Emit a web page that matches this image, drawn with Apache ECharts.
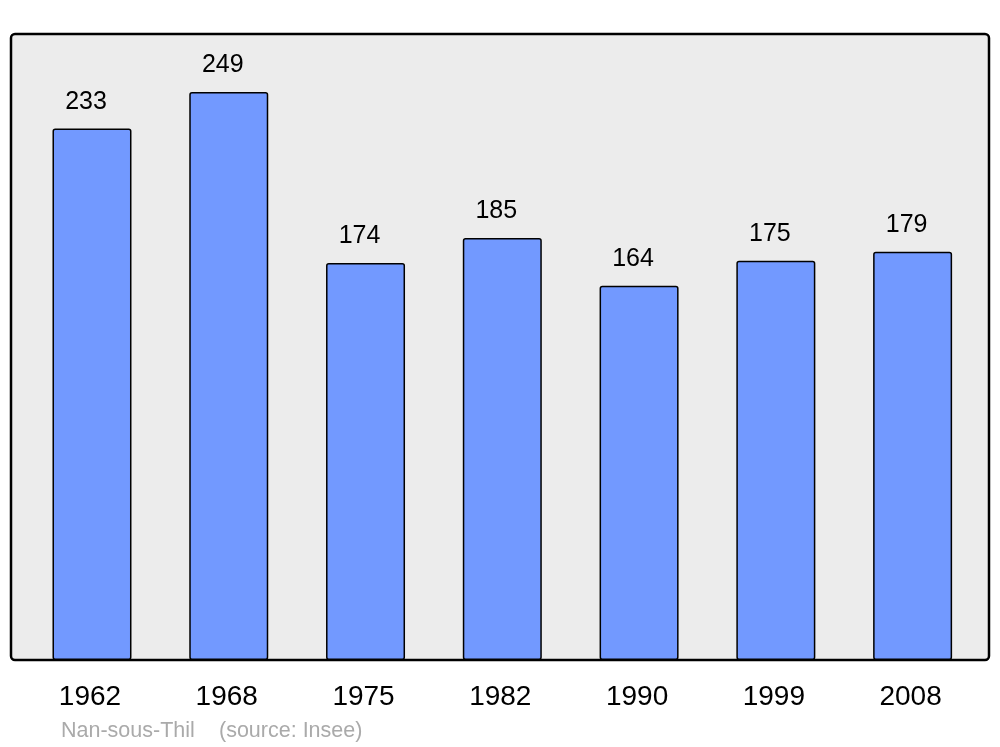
<!DOCTYPE html>
<html><head><meta charset="utf-8">
<script src="https://cdn.jsdelivr.net/npm/echarts@6/dist/echarts.min.js"></script>
<style>html,body{margin:0;padding:0;background:#fff}#c{width:1000px;height:747px}</style>
</head><body><div id="c"></div>
<script>
const categories = ['1962','1968','1975','1982','1990','1999','2008'];
const population = [233, 249, 174, 185, 164, 175, 179];
const placeName = 'Nan-sous-Thil';
const sourceText = '(source: Insee)';

const chart = echarts.init(document.getElementById('c'));
chart.setOption({
  animation: false,
  backgroundColor: '#ffffff',
  textStyle: { fontFamily: 'Liberation Sans, Arial, sans-serif' },
  grid: { left: 23.6, right: 19, top: 34, bottom: 87 },
  graphic: [
    { type: 'rect', z: 0, shape: { x: 11, y: 34, width: 978, height: 626, r: 4 },
      style: { fill: '#ececec', stroke: '#000', lineWidth: 2.5 } },
    { type: 'text', left: 61, top: 720, z: 10,
      style: { text: placeName, fill: '#aaaaaa', font: '21.5px "Liberation Sans", Arial, sans-serif' } },
    { type: 'text', left: 219, top: 720, z: 10,
      style: { text: sourceText, fill: '#aaaaaa', font: '21.5px "Liberation Sans", Arial, sans-serif' } }
  ],
  xAxis: {
    type: 'category', data: categories,
    axisLine: { show: false }, axisTick: { show: false },
    axisLabel: { color: '#000', fontSize: 28, margin: 23, padding: [0, 4, 0, 0],
      fontFamily: 'Liberation Sans, Arial, sans-serif' }
  },
  yAxis: { type: 'value', min: 0, max: 274.4, show: false, splitLine: { show: false } },
  series: [{
    type: 'bar', data: population, barWidth: 79, z: 5,
    itemStyle: { color: '#7299ff', borderColor: '#000', borderWidth: 1.5, borderRadius: 2 },
    label: { show: true, position: 'top', distance: 14, color: '#000', fontSize: 25,
      offset: [-6, 0], fontFamily: 'Liberation Sans, Arial, sans-serif' }
  }]
});
</script></body></html>
